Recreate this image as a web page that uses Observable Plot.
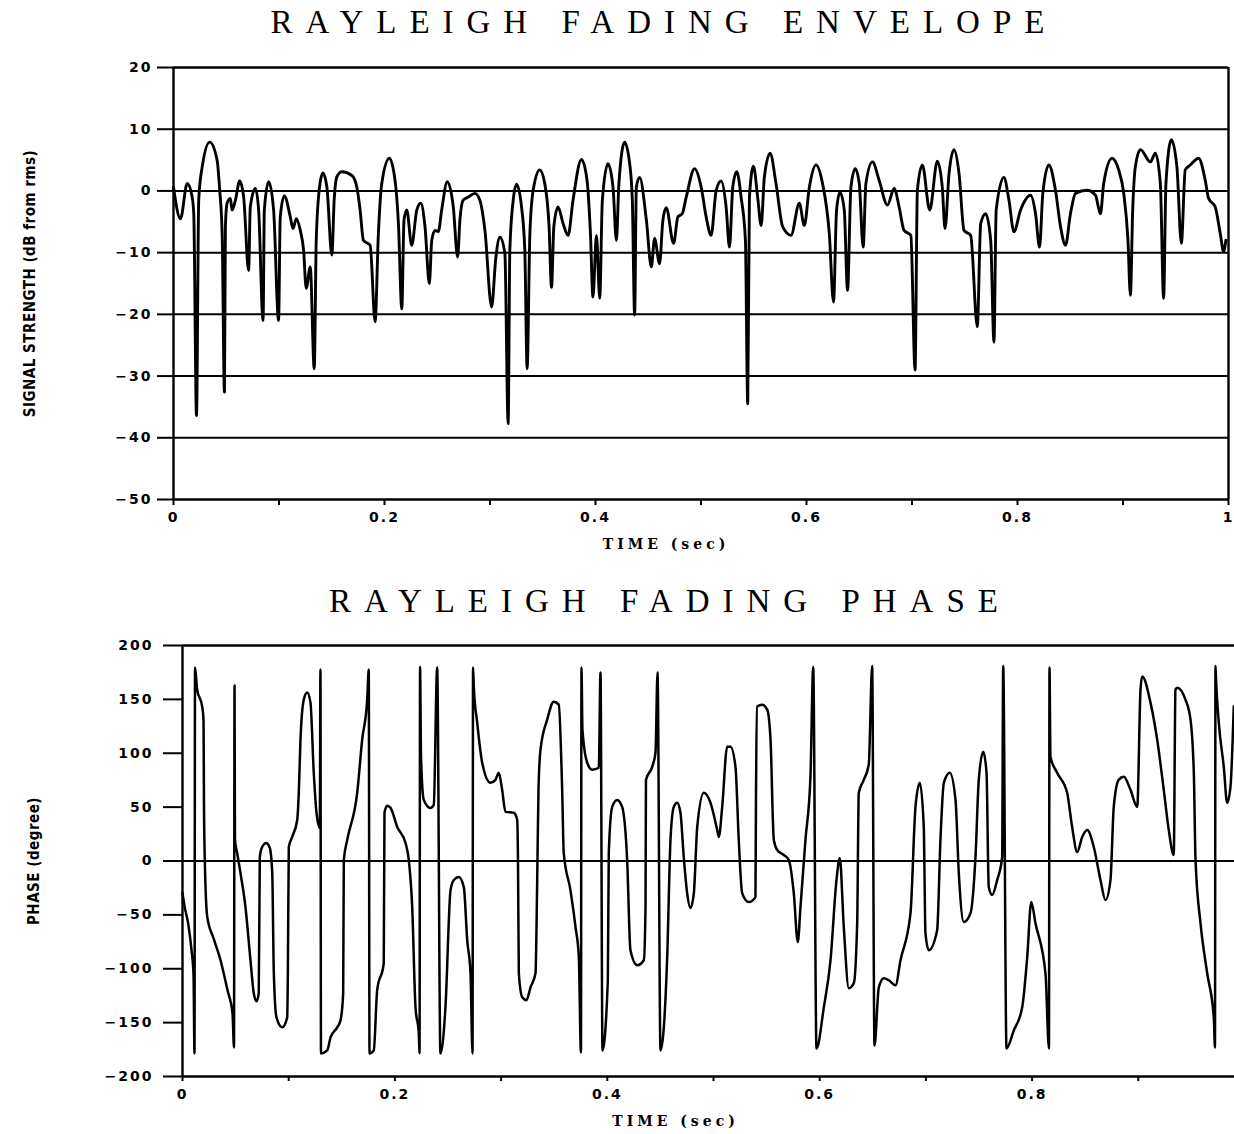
<!DOCTYPE html>
<html><head><meta charset="utf-8">
<script src="https://cdn.jsdelivr.net/npm/d3@7"></script>
<script src="https://cdn.jsdelivr.net/npm/@observablehq/plot@0.6"></script>
<style>
html,body{margin:0;padding:0;background:#fff;}
#wrap{position:relative;width:1234px;height:1134px;overflow:hidden;background:#fff;}
.title{position:absolute;width:1234px;text-align:center;font-family:"Liberation Serif",serif;font-size:33px;line-height:33px;letter-spacing:13px;color:#000;white-space:nowrap;}
#t1{top:6px;left:47px;}
#t2{top:585px;left:53px;}
#c1{position:absolute;top:50px;left:0;}
#c2{position:absolute;top:625px;left:0;}
</style></head><body>
<div id="wrap">
<div class="title" id="t1">RAYLEIGH FADING ENVELOPE</div>
<div id="c1"></div>
<div class="title" id="t2">RAYLEIGH FADING PHASE</div>
<div id="c2"></div>
</div>
<script>
// ---- Envelope (time s, dB from rms) ----
const envelope = [[0,0.6],[0.0066,-4.5],[0.013,1.2],[0.0177,-1.0],[0.0192,-3.7],[0.0218,-36.4],[0.0239,-1.5],[0.0272,3.9],[0.0343,7.9],[0.0413,5.0],[0.0438,0.1],[0.0461,-6.9],[0.0483,-32.6],[0.0492,-5.8],[0.0508,-2.0],[0.0539,-1.2],[0.0555,-3.1],[0.0587,-1.5],[0.0627,1.6],[0.0665,-1.0],[0.0712,-12.9],[0.0728,-2.6],[0.0776,0.4],[0.0807,-3.1],[0.0849,-21.0],[0.0861,-3.1],[0.0902,1.5],[0.0949,-3.1],[0.0996,-21.0],[0.1012,-4.2],[0.105,-0.8],[0.1107,-4.2],[0.1132,-6.1],[0.1164,-4.5],[0.1202,-6.4],[0.1233,-9.6],[0.1258,-15.8],[0.1296,-12.3],[0.1334,-28.8],[0.1353,-8.0],[0.1384,0.6],[0.1416,2.9],[0.1454,0.6],[0.1501,-10.4],[0.1523,-1.5],[0.1549,2.3],[0.1596,3.1],[0.1691,2.5],[0.1738,0.6],[0.1769,-3.1],[0.18,-8.0],[0.1864,-8.8],[0.1911,-21.2],[0.1942,-6.9],[0.1974,1.2],[0.2046,5.3],[0.21,1.7],[0.2132,-5.3],[0.2164,-19.1],[0.2185,-4.7],[0.2211,-3.1],[0.2258,-8.8],[0.2306,-3.1],[0.2343,-2.0],[0.2384,-5.8],[0.2425,-15.0],[0.2448,-8.0],[0.2479,-6.4],[0.251,-6.6],[0.2542,-3.1],[0.2595,1.5],[0.2652,-2.6],[0.2693,-10.7],[0.2715,-4.7],[0.2746,-1.5],[0.2794,-1.0],[0.2857,-0.4],[0.2904,-1.5],[0.2952,-6.4],[0.3015,-18.8],[0.3056,-10.7],[0.3094,-7.5],[0.3141,-10.1],[0.3172,-37.7],[0.3188,-9.6],[0.322,-1.5],[0.3252,1.1],[0.3299,-2.6],[0.333,-9.6],[0.3352,-28.8],[0.3378,-6.9],[0.3409,0.1],[0.3472,3.4],[0.3519,1.2],[0.356,-5.8],[0.3583,-15.6],[0.3605,-5.8],[0.3645,-2.6],[0.3693,-5.3],[0.374,-7.2],[0.3787,-1.5],[0.3867,5.1],[0.392,1.7],[0.3952,-6.9],[0.3976,-17.2],[0.4009,-7.2],[0.404,-17.4],[0.4065,-1.5],[0.4118,4.4],[0.4166,0.6],[0.4198,-8.0],[0.4222,1.2],[0.4276,7.9],[0.4324,4.4],[0.4349,-1.5],[0.4371,-20.1],[0.4387,0.6],[0.4418,2.2],[0.4482,-4.7],[0.4529,-12.3],[0.456,-7.7],[0.4607,-11.8],[0.4639,-4.7],[0.4671,-2.7],[0.474,-8.5],[0.4781,-4.2],[0.4822,-3.7],[0.486,-1.0],[0.4939,3.6],[0.5002,0.6],[0.5049,-4.2],[0.5096,-7.2],[0.5144,0.1],[0.5191,1.6],[0.5238,-2.6],[0.527,-9.1],[0.5301,0.6],[0.5339,3.1],[0.538,-1.0],[0.5421,-8.0],[0.5443,-34.5],[0.5459,-1.0],[0.5497,4.0],[0.5537,-1.0],[0.557,-5.6],[0.5601,2.3],[0.5655,6.1],[0.5711,1.2],[0.5774,-5.8],[0.5853,-7.2],[0.5932,-2.0],[0.5979,-5.6],[0.6027,0.6],[0.609,4.2],[0.6152,1.2],[0.6216,-6.9],[0.6256,-18.0],[0.6285,-3.1],[0.6317,-0.2],[0.6358,-3.1],[0.6389,-16.1],[0.6421,0.6],[0.6462,3.6],[0.65,1.2],[0.6537,-9.1],[0.6563,1.2],[0.6625,4.7],[0.6689,1.7],[0.6767,-2.3],[0.6831,0.4],[0.6878,-2.6],[0.6925,-6.4],[0.6989,-7.2],[0.7029,-29.0],[0.7051,0.1],[0.7098,4.2],[0.7168,-3.1],[0.724,4.8],[0.7287,0.6],[0.7313,-6.1],[0.7351,2.8],[0.7398,6.7],[0.7446,2.8],[0.7493,-6.4],[0.7556,-7.2],[0.7619,-22.0],[0.7651,-5.3],[0.7698,-3.7],[0.7746,-8.0],[0.7777,-24.5],[0.7798,-3.1],[0.7871,2.2],[0.7919,-1.5],[0.7966,-6.6],[0.8029,-3.1],[0.8124,-0.7],[0.8171,-3.7],[0.8209,-9.1],[0.824,-0.4],[0.8297,4.2],[0.836,0.1],[0.8408,-5.8],[0.8455,-8.8],[0.8502,-3.7],[0.855,-0.4],[0.8659,0.1],[0.8739,-0.7],[0.8786,-3.7],[0.8817,1.2],[0.8896,5.3],[0.8959,3.4],[0.9007,-0.4],[0.9047,-8.0],[0.907,-16.9],[0.9092,-3.1],[0.9117,3.9],[0.9165,6.7],[0.9259,4.7],[0.9307,6.1],[0.9354,1.2],[0.9385,-17.4],[0.9407,1.2],[0.9458,8.3],[0.9511,3.9],[0.9553,-8.5],[0.959,3.4],[0.9638,4.2],[0.9716,5.3],[0.978,1.7],[0.9811,-1.2],[0.9874,-2.6],[0.9922,-6.9],[0.9953,-9.8],[0.9975,-8.0]];

// ---- Phase (time s, degree) ----
const phase = [[0,-29.8],[0.0019,-41.9],[0.0056,-59.5],[0.0085,-82.8],[0.0104,-106],[0.0113,-178.6],[0.0118,179.5],[0.0138,159.1],[0.0185,143.5],[0.0198,131.2],[0.0202,56.7],[0.021,0.9],[0.0233,-51.8],[0.0292,-71.6],[0.0358,-92.1],[0.0424,-120],[0.0471,-141.4],[0.0485,-173],[0.049,162.8],[0.0494,19.5],[0.0515,7.4],[0.0546,-11.2],[0.0593,-42.8],[0.064,-92.1],[0.0671,-122.8],[0.0697,-130.2],[0.0718,-122.8],[0.0728,3.7],[0.075,13.0],[0.0788,16.7],[0.0822,12.1],[0.0845,-11.2],[0.086,-104.2],[0.0885,-145.1],[0.0939,-154.4],[0.0986,-145.1],[0.0992,-104.2],[0.1001,13.0],[0.1033,22.3],[0.108,38.1],[0.1095,63.3],[0.1111,112.6],[0.1142,149.8],[0.1174,156.3],[0.1205,147],[0.1236,81.9],[0.1262,44.7],[0.1293,30.7],[0.1299,177.7],[0.1304,-178.6],[0.1363,-175.8],[0.1394,-163.7],[0.1457,-154.4],[0.1488,-147.9],[0.1513,-122.8],[0.1519,0.9],[0.1551,19.5],[0.1645,63.3],[0.1692,112.6],[0.1739,149.8],[0.1754,177.7],[0.1761,-178.6],[0.1801,-175.8],[0.1833,-120],[0.1895,-94.9],[0.1902,44.7],[0.1927,51.2],[0.1959,49.3],[0.2022,31.6],[0.21,16.7],[0.2131,0.9],[0.2163,-42.8],[0.2194,-135.8],[0.2225,-160],[0.2232,-178.6],[0.2237,180],[0.2246,96.7],[0.2272,56.7],[0.2335,49.3],[0.2366,52.1],[0.2398,179.5],[0.2429,-178.6],[0.2476,-135.8],[0.2524,-27],[0.2555,-17.7],[0.2602,-14.9],[0.2649,-24.2],[0.2681,-73.5],[0.2712,-104.2],[0.2731,-178.6],[0.2736,179.5],[0.2743,161.9],[0.2775,128.4],[0.2822,91.2],[0.29,72.6],[0.2947,75.3],[0.2978,81.9],[0.301,66],[0.3041,45.6],[0.312,44.7],[0.3152,38.1],[0.3159,0.9],[0.3167,-104.2],[0.3199,-126.5],[0.3239,-129.3],[0.3277,-117.2],[0.3324,-104.2],[0.334,-17.7],[0.3352,66],[0.3371,103.3],[0.3434,131.2],[0.3496,147.9],[0.3543,145.1],[0.3575,66],[0.359,7.4],[0.3653,-27],[0.3701,-61.4],[0.3732,-89.3],[0.3752,-177.7],[0.3757,179.5],[0.3766,121.9],[0.3811,91.2],[0.3858,84.7],[0.392,86.5],[0.3936,174.9],[0.3955,-175.8],[0.4005,-110.7],[0.4014,7.4],[0.4046,50.2],[0.4093,56.7],[0.414,50.2],[0.4187,0.9],[0.4218,-82.8],[0.4282,-96.7],[0.4344,-92.1],[0.436,-42.8],[0.4364,75.3],[0.4423,87.4],[0.4454,100.5],[0.4473,174.9],[0.4501,-175.8],[0.4564,-89.3],[0.4595,19.5],[0.4626,50.2],[0.4658,54],[0.4689,44.7],[0.472,3.7],[0.4752,-29.8],[0.4783,-43.7],[0.4815,-29.8],[0.4847,31.6],[0.4909,63.3],[0.4972,54],[0.5035,28.8],[0.505,22.3],[0.5082,50.2],[0.5129,106],[0.516,106],[0.5207,87.4],[0.5238,19.5],[0.527,-29.8],[0.5332,-38.1],[0.5395,-33.5],[0.54,56.7],[0.5411,143.3],[0.5458,145.1],[0.5506,140.5],[0.5537,112.6],[0.5568,19.5],[0.56,10.2],[0.5662,5.6],[0.5709,0.9],[0.5756,-29.8],[0.5794,-75.3],[0.5819,-42.8],[0.5866,19.5],[0.5913,78.1],[0.5939,180],[0.597,-174],[0.6039,-135.8],[0.6102,-92.1],[0.6158,-17.7],[0.6189,2.8],[0.6227,-61.4],[0.6274,-118.1],[0.6321,-113.5],[0.6353,-57.7],[0.6368,63.3],[0.6415,75.3],[0.6462,89.3],[0.6494,181],[0.6516,-171.2],[0.6557,-117.2],[0.6604,-108.8],[0.6651,-110.7],[0.6714,-115.3],[0.6761,-92.1],[0.6855,-48.4],[0.6902,50.2],[0.6943,72.6],[0.698,31.6],[0.6996,-67],[0.7027,-82.8],[0.7106,-64.2],[0.7137,19.5],[0.7169,72.6],[0.7225,81.9],[0.7279,56.7],[0.731,-11.2],[0.7357,-56.7],[0.742,-48.4],[0.7467,3.7],[0.7498,75.3],[0.754,101.4],[0.7571,81.9],[0.7592,-24.2],[0.7624,-31.6],[0.7671,-17.7],[0.7718,3.7],[0.7728,181],[0.7759,-174],[0.7828,-157.2],[0.7907,-135.8],[0.7954,-89.3],[0.7992,-38.1],[0.8032,-57.7],[0.8126,-104.2],[0.8159,-174],[0.8164,179.5],[0.8173,96.7],[0.8236,81.9],[0.833,63.3],[0.8377,31.6],[0.8425,8.4],[0.8472,22.3],[0.8519,28.8],[0.8581,13],[0.8644,-17.7],[0.8691,-36.3],[0.8738,-17.7],[0.8769,50.2],[0.8816,75.3],[0.8863,78.1],[0.8927,66],[0.899,50.2],[0.9021,159.1],[0.9037,171.2],[0.9115,147],[0.9178,112.6],[0.924,66],[0.9287,28.8],[0.9334,5.6],[0.935,159.1],[0.9366,160.9],[0.9444,149.8],[0.9492,131.2],[0.9523,81.9],[0.9539,0.9],[0.9586,-57.7],[0.9649,-104.2],[0.9711,-145.1],[0.9722,-173],[0.9727,181],[0.9732,168.4],[0.9758,128.4],[0.9805,87.4],[0.9837,54],[0.9868,68.8],[0.9899,143.3]];

// ---- Axis ticks & labels ----
const topYTicks = [20,10,0,-10,-20,-30,-40,-50];
const topYLabels = ["20","10","0","\u221210","\u221220","\u221230","\u221240","\u221250"];
const topXTicks = [0,0.1,0.2,0.3,0.4,0.5,0.6,0.7,0.8,0.9,1];
const topXLabelTicks = [0,0.2,0.4,0.6,0.8,1];
const topXLabels = ["0","0.2","0.4","0.6","0.8","1"];
const botYTicks = [200,150,100,50,0,-50,-100,-150,-200];
const botYLabels = ["200","150","100","50","0","\u221250","\u2212100","\u2212150","\u2212200"];
const botXTicks = [0,0.1,0.2,0.3,0.4,0.5,0.6,0.7,0.8,0.9];
const botXLabelTicks = [0,0.2,0.4,0.6,0.8];
const botXLabels = ["0","0.2","0.4","0.6","0.8"];
const topFrameY = [20,-50];
const topGridY = [10,0,-10,-20,-30,-40];
const topFrameX = [0,1];
const botFrameY = [200,-200];
const botGridY = [0];
const botFrameX = [0];

const envData = envelope.map(([t, db]) => ({t, db}));
const phData = phase.map(([t, deg]) => ({t, deg}));

const baseStyle = {fontFamily: "'DejaVu Sans', sans-serif", fontSize: "14px", fontWeight: "bold", color: "black", background: "white", overflow: "visible"};
const condensed = "'DejaVu Sans Condensed', 'DejaVu Sans', sans-serif";

const chart1 = Plot.plot({
  width: 1234, height: 515,
  marginLeft: 173, marginRight: 6, marginTop: 17, marginBottom: 66,
  x: {domain: [0, 1]},
  y: {domain: [-50, 20]},
  style: baseStyle,
  marks: [
    Plot.ruleY(topGridY, {stroke: "black", strokeWidth: 2}),
    Plot.ruleY(topFrameY, {stroke: "black", strokeWidth: 2.4}),
    Plot.ruleX(topFrameX, {stroke: "black", strokeWidth: 2.4}),
    Plot.axisY({ticks: topYTicks, tickSize: 16, tickPadding: 5, strokeWidth: 2, label: null,
      tickFormat: d => topYLabels[topYTicks.indexOf(d)]}),
    Plot.axisX({ticks: topXTicks, tickSize: 6, strokeWidth: 2, label: null, tickFormat: () => ""}),
    Plot.axisX({ticks: topXLabelTicks, tickSize: 0, tickPadding: 13, label: null,
      tickFormat: d => topXLabels[topXLabelTicks.indexOf(d)]}),
    Plot.line(envData, {x: "t", y: "db", curve: "monotone-x", stroke: "black", strokeWidth: 2.9, strokeLinejoin: "round"}),
    Plot.text(["SIGNAL STRENGTH (dB from rms)"], {text: d => d, frameAnchor: "left", textAnchor: "middle", dx: -143, rotate: -90,
      fontFamily: condensed, fontWeight: "bold", fontSize: 15}),
    Plot.text(["TIME (sec)"], {text: d => d, frameAnchor: "bottom", textAnchor: "middle", dx: -35, dy: 49,
      fontFamily: "'DejaVu Serif', serif", fontWeight: "bold", fontSize: 14})
  ]
});

const chart2 = Plot.plot({
  width: 1234, height: 509,
  marginLeft: 182, marginRight: 0, marginTop: 20, marginBottom: 58,
  x: {domain: [0, 0.9906]},
  y: {domain: [-200, 200]},
  style: baseStyle,
  marks: [
    Plot.ruleY(botGridY, {stroke: "black", strokeWidth: 2}),
    Plot.ruleY(botFrameY, {stroke: "black", strokeWidth: 2.4}),
    Plot.ruleX(botFrameX, {stroke: "black", strokeWidth: 2.4}),
    Plot.axisY({ticks: botYTicks, tickSize: 19, tickPadding: 10, strokeWidth: 2, label: null,
      tickFormat: d => botYLabels[botYTicks.indexOf(d)]}),
    Plot.axisX({ticks: botXTicks, tickSize: 5, strokeWidth: 2, label: null, tickFormat: () => ""}),
    Plot.axisX({ticks: botXLabelTicks, tickSize: 0, tickPadding: 13, label: null,
      tickFormat: d => botXLabels[botXLabelTicks.indexOf(d)]}),
    Plot.line(phData, {x: "t", y: "deg", curve: "monotone-x", stroke: "black", strokeWidth: 2.5, strokeLinejoin: "round"}),
    Plot.text(["PHASE (degree)"], {text: d => d, frameAnchor: "left", textAnchor: "middle", dx: -148, rotate: -90,
      fontFamily: condensed, fontWeight: "bold", fontSize: 15}),
    Plot.text(["TIME (sec)"], {text: d => d, frameAnchor: "bottom", textAnchor: "middle", dx: -33, dy: 49,
      fontFamily: "'DejaVu Serif', serif", fontWeight: "bold", fontSize: 14})
  ]
});

document.getElementById("c1").appendChild(chart1);
document.getElementById("c2").appendChild(chart2);

// letter spacing for text styling
for (const svg of [chart1, chart2]) {
  d3.select(svg).selectAll('g[aria-label="y-axis tick label"] text, g[aria-label="x-axis tick label"] text')
    .style("letter-spacing", "2px");
  d3.select(svg).selectAll('g[aria-label="text"] text').each(function() {
    const s = this.textContent;
    if (s.startsWith("TIME")) d3.select(this).style("letter-spacing", "4px");
    else d3.select(this).style("letter-spacing", "0.5px");
  });
}
</script>
</body></html>
